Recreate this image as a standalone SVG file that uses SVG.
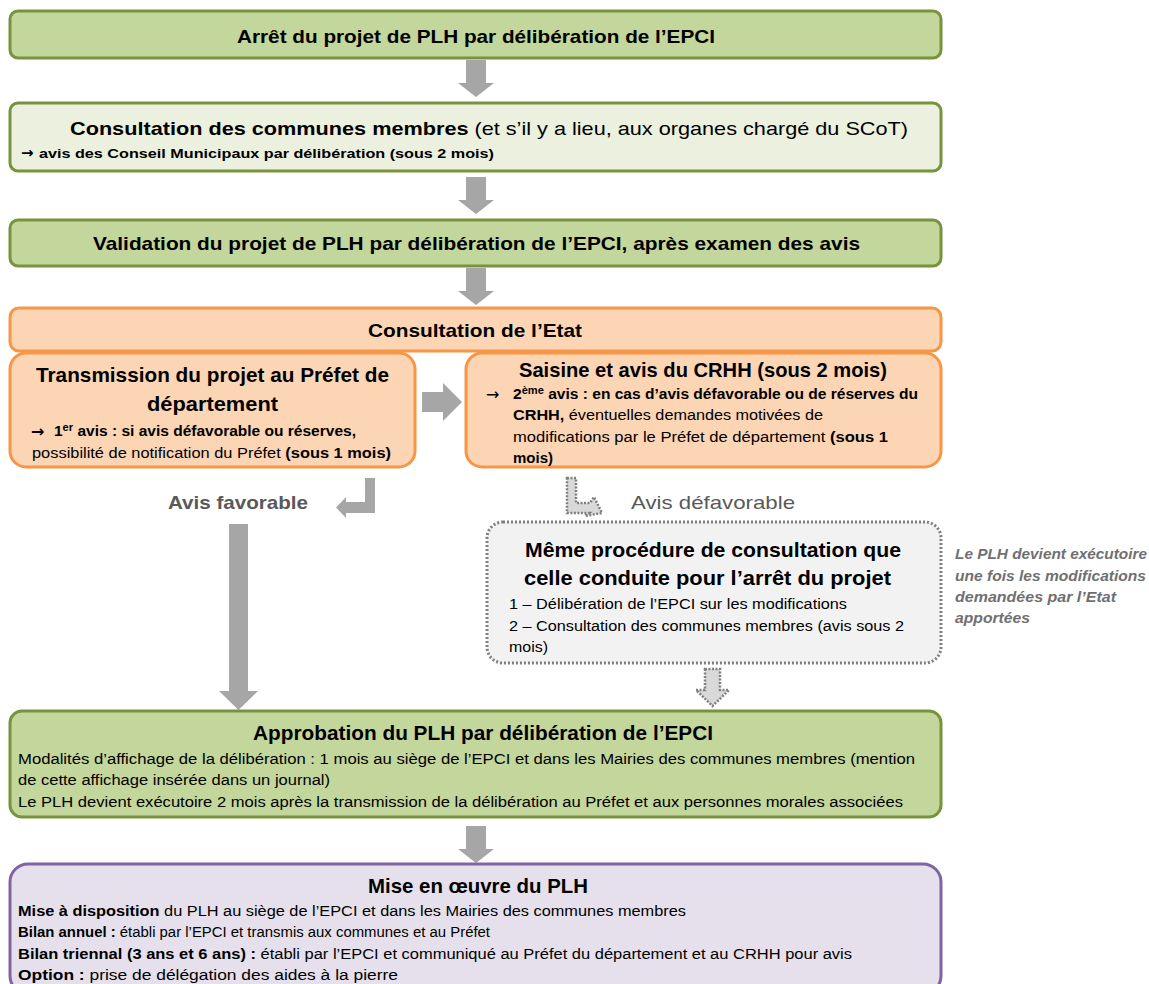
<svg xmlns="http://www.w3.org/2000/svg" width="1149" height="984" viewBox="0 0 1149 984">
<style>
text{font-family:"Liberation Sans",Arial,sans-serif;fill:#000}
.b{font-weight:bold}
.t{font-size:19px;font-weight:bold}
.arw{font-family:"DejaVu Sans",sans-serif;font-weight:bold}
.g{fill:#C3D69B;stroke:#77933C;stroke-width:3}
.gl{fill:#EBF1DE;stroke:#77933C;stroke-width:3}
.o{fill:#FCD5B5;stroke:#F79646;stroke-width:3}
.p{fill:#E5E0EC;stroke:#8064A2;stroke-width:3}
.d{fill:#F2F2F2;stroke:#7F7F7F;stroke-width:3;stroke-dasharray:2 2}
.ar{fill:#A6A6A6}
.ad{fill:#D9D9D9;stroke:#7F7F7F;stroke-width:2.5;stroke-dasharray:2 1.5}
.lab{font-size:19px;font-weight:bold;fill:#595959}
.note{font-size:14px;font-weight:bold;font-style:italic;fill:#707070}
</style>
<rect width="1149" height="984" fill="#fff"/>
<g id="connectors">
<polygon class="ar" points="466,60 486,60 486,83 494,83 476,97 458,83 466,83"/>
<polygon class="ar" points="466,177 486,177 486,200 494,200 476,214 458,200 466,200"/>
<polygon class="ar" points="466,268 486,268 486,291 494,291 476,305 458,291 466,291"/>
<polygon class="ar" points="422,392 443,392 443,383 462,402 443,421 443,412 422,412"/>
<polygon class="ar" points="365,478 375,478 375,513 346,513 346,518 336,507.5 346,497 346,502 365,502"/>
<polygon class="ar" points="229,524 248,524 248,691 258,691 238.5,710 219,691 229,691"/>
<polygon class="ad" points="567,478 576,478 576,503 590,503 594,497 602,513 585,516 589,513 567,513"/>
<polygon class="ad" points="705,669 720,669 720,690 729,690 712.5,706 696,690 705,690"/>
<polygon class="ar" points="466,826 486,826 486,849 494,849 476,863 458,849 466,849"/>
</g>
<g id="n1">
<rect class="g" x="10" y="11" width="931" height="47" rx="8"/>
<text class="t" x="237" y="43" textLength="478" lengthAdjust="spacingAndGlyphs">Arrêt du projet de PLH par délibération de l’EPCI</text>
</g>
<g id="n2">
<rect class="gl" x="10" y="103" width="931" height="68" rx="8"/>
<text x="70" y="135" font-size="19" textLength="838" lengthAdjust="spacingAndGlyphs"><tspan class="b">Consultation des communes membres</tspan> (et s’il y a lieu, aux organes chargé du SCoT)</text>
<text class="arw" x="21" y="158" font-size="15">→</text>
<text class="b" x="39" y="158" font-size="13" textLength="455" lengthAdjust="spacingAndGlyphs">avis des Conseil Municipaux  par délibération (sous 2 mois)</text>
</g>
<g id="n3">
<rect class="g" x="10" y="220" width="931" height="46" rx="8"/>
<text class="t" x="93" y="250" textLength="767" lengthAdjust="spacingAndGlyphs">Validation du projet de PLH par délibération de l’EPCI, après examen des avis</text>
</g>
<g id="n4">
<rect class="o" x="10" y="308" width="931" height="43" rx="9"/>
<text class="t" x="368" y="337" textLength="214" lengthAdjust="spacingAndGlyphs">Consultation de l’Etat</text>
</g>
<g id="n5">
<rect class="o" x="10" y="353" width="405" height="114" rx="16"/>
<text class="b" x="36" y="382" font-size="21" textLength="353" lengthAdjust="spacingAndGlyphs">Transmission du projet au Préfet de</text>
<text class="b" x="147" y="411" font-size="21" textLength="131" lengthAdjust="spacingAndGlyphs">département</text>
<text class="arw" x="31" y="437" font-size="16">→</text>
<text class="b" x="54" y="436" font-size="14" textLength="302" lengthAdjust="spacingAndGlyphs">1<tspan font-size="10" dy="-5">er</tspan><tspan dy="5"> avis : si avis défavorable ou réserves,</tspan></text>
<text x="32" y="458" font-size="14" textLength="359" lengthAdjust="spacingAndGlyphs">possibilité de notification du Préfet <tspan class="b">(sous 1 mois)</tspan></text>
</g>
<g id="n6">
<rect class="o" x="466" y="353" width="475" height="114" rx="16"/>
<text class="b" x="519" y="377" font-size="21" textLength="368" lengthAdjust="spacingAndGlyphs">Saisine et avis du CRHH (sous 2 mois)</text>
<text class="arw" x="486" y="400" font-size="16" style="font-weight:normal">→</text>
<text class="b" x="513" y="399" font-size="14" textLength="405" lengthAdjust="spacingAndGlyphs">2<tspan font-size="10" dy="-5">ème</tspan><tspan dy="5"> avis : en cas d’avis défavorable ou de réserves du</tspan></text>
<text x="513" y="420" font-size="14" textLength="310" lengthAdjust="spacingAndGlyphs"><tspan class="b">CRHH,</tspan> éventuelles demandes motivées de</text>
<text x="513" y="442" font-size="14" textLength="375" lengthAdjust="spacingAndGlyphs">modifications par le Préfet de département <tspan class="b">(sous 1</tspan></text>
<text class="b" x="513" y="463" font-size="14" textLength="40" lengthAdjust="spacingAndGlyphs">mois)</text>
</g>
<g id="lab-fav">
<text class="lab" x="168" y="509" textLength="140" lengthAdjust="spacingAndGlyphs">Avis favorable</text>
</g>
<g id="lab-defav">
<text class="lab" x="631" y="509" textLength="164" lengthAdjust="spacingAndGlyphs" style="font-weight:normal">Avis défavorable</text>
</g>
<g id="n7">
<rect class="d" x="487" y="522" width="454" height="141" rx="16"/>
<text class="b" x="525" y="557" font-size="21" textLength="376" lengthAdjust="spacingAndGlyphs">Même procédure de consultation que</text>
<text class="b" x="524" y="585" font-size="21" textLength="367" lengthAdjust="spacingAndGlyphs">celle conduite pour l’arrêt du projet</text>
<text x="509" y="609" font-size="14" textLength="338" lengthAdjust="spacingAndGlyphs">1 – Délibération de l’EPCI sur les modifications</text>
<text x="509" y="631" font-size="14" textLength="395" lengthAdjust="spacingAndGlyphs">2 – Consultation des communes membres (avis sous 2</text>
<text x="509" y="652" font-size="14" textLength="39" lengthAdjust="spacingAndGlyphs">mois)</text>
</g>
<g id="note">
<text class="note" x="955" y="559" textLength="192" lengthAdjust="spacingAndGlyphs">Le PLH devient exécutoire</text>
<text class="note" x="955" y="581" textLength="191" lengthAdjust="spacingAndGlyphs">une fois les modifications</text>
<text class="note" x="955" y="602" textLength="161" lengthAdjust="spacingAndGlyphs">demandées par l’Etat</text>
<text class="note" x="955" y="623" textLength="75" lengthAdjust="spacingAndGlyphs">apportées</text>
</g>
<g id="n8">
<rect class="g" x="10" y="711" width="931" height="106" rx="12"/>
<text class="b" x="253" y="740" font-size="21" textLength="460" lengthAdjust="spacingAndGlyphs">Approbation du PLH par délibération de l’EPCI</text>
<text x="18" y="764" font-size="14" textLength="897" lengthAdjust="spacingAndGlyphs">Modalités d’affichage de la délibération : 1 mois au siège de l’EPCI et dans les Mairies des communes membres (mention</text>
<text x="18" y="785" font-size="14" textLength="312" lengthAdjust="spacingAndGlyphs">de cette affichage insérée dans un journal)</text>
<text x="18" y="807" font-size="14" textLength="885" lengthAdjust="spacingAndGlyphs">Le PLH devient exécutoire 2 mois après la transmission de la délibération au Préfet et aux personnes morales associées</text>
</g>
<g id="n9">
<rect class="p" x="10" y="864" width="931" height="130" rx="18"/>
<text class="b" x="368" y="893" font-size="21" textLength="220" lengthAdjust="spacingAndGlyphs">Mise en œuvre du PLH</text>
<text x="18" y="916" font-size="14" textLength="668" lengthAdjust="spacingAndGlyphs"><tspan class="b">Mise à disposition</tspan> du PLH au siège de l’EPCI et dans les Mairies des communes membres</text>
<text x="18" y="937" font-size="14" textLength="472" lengthAdjust="spacingAndGlyphs"><tspan class="b">Bilan annuel :</tspan> établi par l’EPCI et transmis aux communes et au Préfet</text>
<text x="18" y="959" font-size="14" textLength="834" lengthAdjust="spacingAndGlyphs"><tspan class="b">Bilan triennal (3 ans et 6 ans) :</tspan> établi par l’EPCI et communiqué au Préfet du département et au CRHH pour avis</text>
<text x="18" y="980" font-size="14" textLength="380" lengthAdjust="spacingAndGlyphs"><tspan class="b">Option :</tspan> prise de délégation des aides à la pierre</text>
</g>
</svg>
